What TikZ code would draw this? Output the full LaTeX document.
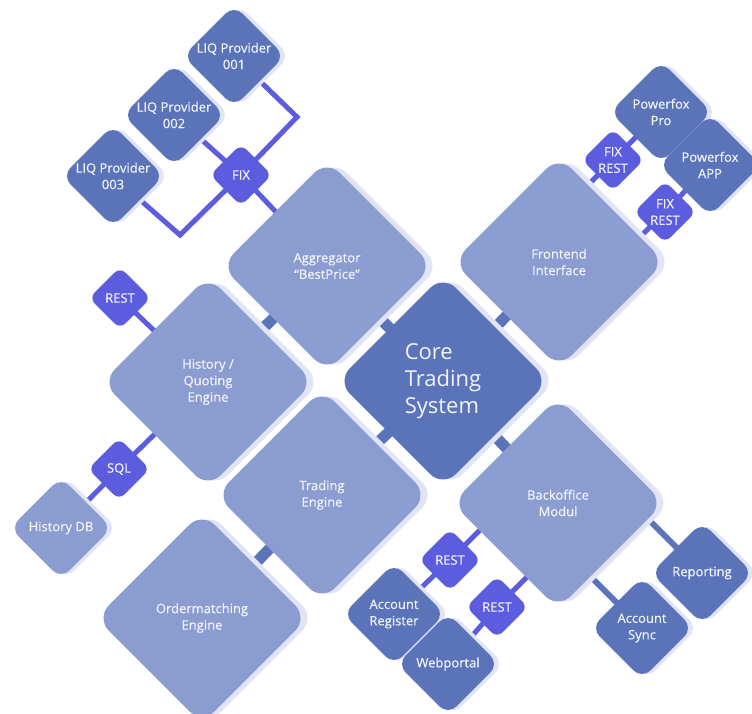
\documentclass[tikz,border=0pt]{standalone}
\usepackage{fontspec}
\setmainfont{Open Sans}
\newfontfamily\labelfont{Open Sans}[FakeBold=0.4]
\usepackage{tikz}
\usetikzlibrary{shapes.geometric,shadows,calc}
\definecolor{boxlight}{RGB}{138,156,208}
\definecolor{boxdark}{RGB}{90,115,185}
\definecolor{protoc}{RGB}{92,92,222}
\definecolor{shadowc}{RGB}{224,228,244}
\definecolor{labelc}{RGB}{242,244,251}

\begin{document}
\begin{tikzpicture}[x=1pt, y=-1pt,
    module/.style={diamond, minimum size=212pt, inner sep=0pt, rounded corners=18pt,
        fill=boxlight, text=labelc, align=center, font=\labelfont\fontsize{13}{16.5}\selectfont,
        general shadow={fill=shadowc, shadow xshift=7pt}},
    coremod/.style={module, fill=boxdark, align=left, font=\fontsize{22}{27}\selectfont},
    client/.style={diamond, minimum size=102pt, inner sep=0pt, rounded corners=12pt,
        fill=boxdark, text=labelc, align=center, font=\labelfont\fontsize{13}{16.5}\selectfont,
        general shadow={fill=shadowc, shadow xshift=5pt}},
    proto/.style={diamond, minimum size=62pt, inner sep=0pt, rounded corners=8pt,
        fill=protoc, text=labelc, align=center, font=\labelfont\fontsize{13}{16.5}\selectfont},
    link/.style={line width=5pt, protoc},
    tie/.style={line width=6pt, boxdark},
    joint/.style={line width=11pt, boxdark}]
    \useasboundingbox (0,0) rectangle (752,713);
    \clip (0,0) rectangle (752,713);

    % positions
    \coordinate (p-core) at (443,381);
    \coordinate (p-agg) at (327,266);
    \coordinate (p-front) at (559,262);
    \coordinate (p-hist) at (208,382);
    \coordinate (p-trade) at (322,495);
    \coordinate (p-back) at (558,503);
    \coordinate (p-order) at (202,618);

    \coordinate (c1) at (297,117);
    \coordinate (c3) at (180,235);
    \coordinate (front-in1) at (568,205);
    \coordinate (front-in2) at (595,282);
    \coordinate (back-in1) at (510,500);
    \coordinate (back-in2) at (547,557);
    \coordinate (rep-in) at (632,503);
    \coordinate (sync-in) at (572,558);

    % connectors
    \draw[joint] (p-agg) -- (p-core);
    \draw[joint] (p-agg) -- (p-hist);
    \draw[joint] (p-front) -- (p-core);
    \draw[joint] (p-core) -- (p-trade);
    \draw[joint] (p-core) -- (p-back);
    \draw[joint] (p-trade) -- (p-order);

    \draw[link] (234,56) -- (c1) -- (241,175);
    \draw[link] (174,115) -- (241,175);
    \draw[link] (113,176) -- (c3) -- (241,175);
    \draw[link] (241,175) -- (p-agg);
    \draw[link] (front-in1) -- (613,160) -- (661,112);
    \draw[link] (front-in2) -- (665,212) -- (710,165);
    \draw[link] (120,298) -- (p-hist);
    \draw[link] (p-hist) -- (119,469) -- (61,528);
    \draw[link] (back-in1) -- (450,560) -- (394,614);
    \draw[link] (back-in2) -- (497,607) -- (448,664);
    \draw[tie] (rep-in) -- (702,573);
    \draw[tie] (sync-in) -- (642,628);

    % modules
    \node[module] (agg) at (p-agg) {Aggregator\\“BestPrice”};
    \node[module] (front) at (p-front) {Frontend\\Interface};
    \node[module] (hist) at (p-hist) {History /\\Quoting\\Engine};
    \node[module] (trade) at (p-trade) {Trading\\Engine};
    \node[module] (back) at (p-back) {Backoffice\\Modul};
    \node[module] (order) at (p-order) {Ordermatching\\Engine};
    \node[coremod] (core) at (p-core) {Core\\Trading\\System};

    % outer systems
    \node[client] (liq1) at (234,56) {LIQ Provider\\001};
    \node[client] (liq2) at (174,115) {LIQ Provider\\002};
    \node[client] (liq3) at (113,176) {LIQ Provider\\003};
    \node[client] (pwpro) at (661,112) {Powerfox\\Pro};
    \node[client] (pwapp) at (710,165) {Powerfox\\APP};
    \node[client, fill=boxlight] (histdb) at (61,528) {History DB};
    \node[client] (accreg) at (394,614) {Account\\Register};
    \node[client] (webp) at (448,664) {Webportal};
    \node[client] (report) at (702,573) {Reporting};
    \node[client] (accsync) at (642,628) {Account\\Sync};

    % protocols
    \node[proto] (fix) at (241,175) {FIX};
    \node[proto] (fr1) at (613,160) {FIX\\REST};
    \node[proto] (fr2) at (665,212) {FIX\\REST};
    \node[proto] (rest) at (120,298) {REST};
    \node[proto] (sql) at (119,469) {SQL};
    \node[proto] (rest1) at (450,560) {REST};
    \node[proto] (rest2) at (497,607) {REST};
\end{tikzpicture}
\end{document}
